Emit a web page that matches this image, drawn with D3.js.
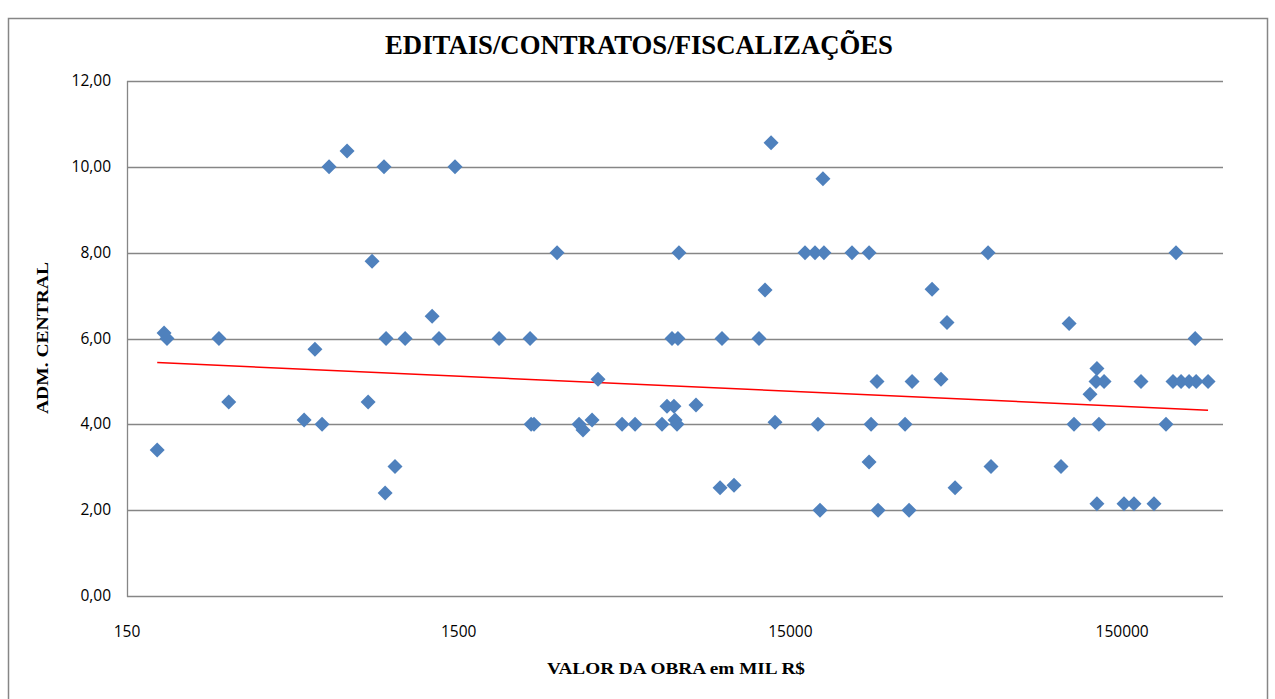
<!DOCTYPE html>
<html>
<head>
<meta charset="utf-8">
<script src="https://cdn.jsdelivr.net/npm/d3@7"></script>
<style>
  body { margin: 0; background: #fff; }
  svg { display: block; }
</style>
</head>
<body>
<svg id="chart"></svg>
<script>
width = 1275
height = 699

// values
var valorObra = [185, 194, 198, 284, 304, 513, 553, 581, 610, 691,
  800, 822, 893, 906, 900, 964, 1034, 1247, 1308, 1462,
  1985, 2461, 2480, 2530, 2969, 3458, 3555, 3785, 3945, 4661,
  5101, 6151, 6369, 6593, 6682, 6735, 6826, 6870, 6917, 7787,
  9203, 9330, 10139, 12060, 12576, 13111, 13478, 16600, 17790, 18160,
  18420, 18800, 18930, 23000, 25890, 25890, 26250, 27360, 27560, 33240,
  34180, 34900, 40100, 42660, 44480, 47030, 59130, 60370, 98130, 103800,
  107400, 120000, 125100, 125900, 125900, 127700, 132300, 151970, 162900, 171000,
  187100, 203400, 213500, 218000, 225800, 238700, 249000, 250700, 272300]

var admCentral = [3.40, 6.13, 6.00, 6.00, 4.52, 4.10, 5.75, 4.00, 10.00, 10.37,
  4.52, 7.80, 10.00, 6.00, 2.40, 3.02, 6.00, 6.52, 6.00, 10.00,
  6.00, 6.00, 4.00, 4.00, 8.00, 4.00, 3.87, 4.10, 5.05, 4.00,
  4.00, 4.00, 4.42, 6.00, 4.42, 4.10, 4.00, 6.00, 8.00, 4.45,
  2.52, 6.00, 2.58, 6.00, 7.13, 10.56, 4.05, 8.00, 8.00, 4.00,
  2.00, 9.72, 8.00, 8.00, 8.00, 3.12, 4.00, 5.00, 2.00, 4.00,
  2.00, 5.00, 7.15, 5.05, 6.37, 2.52, 8.00, 3.02, 3.02, 6.35,
  4.00, 4.70, 5.00, 5.30, 2.15, 4.00, 5.00, 2.15, 2.15, 5.00,
  2.15, 4.00, 5.00, 8.00, 5.00, 5.00, 6.00, 5.00, 5.00]

// trendline end points (log trend)
var trendX = [185, 272300]
var trendY = [5.44, 4.33]

var xTicks = [150, 1500, 15000, 150000]
var yTicks = [0, 2, 4, 6, 8, 10, 12]

var gray = "#868686"
var blue = "#4f81bd"

var svg = d3.select("#chart")
    .attr("width", width)
    .attr("height", height);

//chart border
svg.append("rect")
    .attr("x", 8.5)
    .attr("y", 18.5)
    .attr("width", 1259)
    .attr("height", 700)
    .attr("fill", "#fff")
    .attr("stroke", gray)
    .attr("stroke-width", 1.5);

var x = d3.scaleLog().domain([150, 300000]).range([127, 1222]);
var y = d3.scaleLinear().domain([0, 12]).range([596, 81]);

//gridlines
svg.append("g")
    .selectAll("line")
    .data(yTicks)
    .enter().append("line")
    .attr("x1", 127)
    .attr("x2", 1223)
    .attr("y1", function(d){return Math.round(y(d)) + 0.5})
    .attr("y2", function(d){return Math.round(y(d)) + 0.5})
    .attr("stroke", gray)
    .attr("stroke-width", 1.3);

//left axis line
svg.append("line")
    .attr("x1", 127.5).attr("x2", 127.5)
    .attr("y1", y(12)).attr("y2", y(0) + 1)
    .attr("stroke", gray)
    .attr("stroke-width", 1.3);

//y tick labels
svg.append("g")
    .selectAll("text")
    .data(yTicks)
    .enter().append("text")
    .attr("x", 111)
    .attr("y", function(d){return y(d) + 5})
    .attr("text-anchor", "end")
    .attr("font-family", "Open Sans")
    .attr("font-size", "15.5px")
    .attr("fill", "#000")
    .text(function(d){return d3.format(".2f")(d).replace(".", ",")});

//x tick labels
svg.append("g")
    .selectAll("text")
    .data(xTicks)
    .enter().append("text")
    .attr("x", function(d){return x(d)})
    .attr("y", 637)
    .attr("text-anchor", "middle")
    .attr("font-family", "Open Sans")
    .attr("font-size", "15.5px")
    .attr("fill", "#000")
    .text(function(d){return d});

//trendline
svg.append("line")
    .attr("x1", x(trendX[0]))
    .attr("y1", y(trendY[0]))
    .attr("x2", x(trendX[1]))
    .attr("y2", y(trendY[1]))
    .attr("stroke", "#ff0000")
    .attr("stroke-width", 1.5);

//diamond markers
var r = 7.5
var diamond = "M0," + (-r) + "L" + r + ",0L0," + r + "L" + (-r) + ",0Z"

svg.append("g")
    .selectAll("path")
    .data(d3.range(valorObra.length))
    .enter().append("path")
    .attr("transform", function(i){return "translate(" + x(valorObra[i]) + "," + y(admCentral[i]) + ")"})
    .attr("d", diamond)
    .attr("fill", blue);

//title
svg.append("text")
    .attr("x", 639)
    .attr("y", 54)
    .attr("text-anchor", "middle")
    .attr("font-family", "Liberation Serif")
    .attr("font-weight", "bold")
    .attr("font-size", "27px")
    .attr("textLength", 508)
    .attr("lengthAdjust", "spacingAndGlyphs")
    .text("EDITAIS/CONTRATOS/FISCALIZAÇÕES");

//axis titles
svg.append("text")
    .attr("x", 676)
    .attr("y", 674)
    .attr("text-anchor", "middle")
    .attr("font-family", "Liberation Serif")
    .attr("font-weight", "bold")
    .attr("font-size", "17px")
    .attr("textLength", 258)
    .attr("lengthAdjust", "spacingAndGlyphs")
    .text("VALOR DA  OBRA  em MIL R$");

svg.append("text")
    .attr("transform", "translate(48,338) rotate(-90)")
    .attr("text-anchor", "middle")
    .attr("font-family", "Liberation Serif")
    .attr("font-weight", "bold")
    .attr("font-size", "17px")
    .attr("textLength", 152)
    .attr("lengthAdjust", "spacingAndGlyphs")
    .text("ADM.  CENTRAL");
</script>
</body>
</html>
